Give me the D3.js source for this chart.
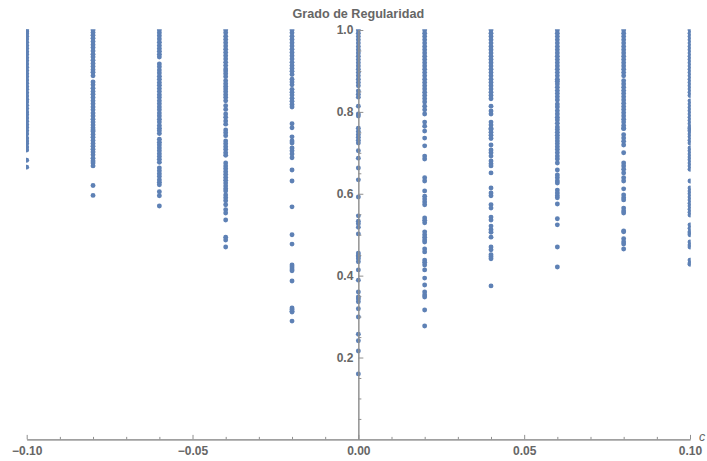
<!DOCTYPE html>
<html>
<head>
<meta charset="utf-8">
<script src="https://cdn.jsdelivr.net/npm/d3@7"></script>
<style>
  html, body { margin: 0; padding: 0; background: #fff; }
  svg { display: block; font-family: "Liberation Sans", Arial, sans-serif; }
</style>
</head>
<body>
<svg id="chart" width="707" height="461"></svg>
<script>
// Parameter values c (one column of points per value)
const cValues = [-0.10, -0.08, -0.06, -0.04, -0.02, 0.00, 0.02, 0.04, 0.06, 0.08, 0.10];

// Degree of regularity observed for each c
const regM10 = [1.000, 0.996, 0.991, 0.985, 0.978, 0.970, 0.962, 0.955, 0.947, 0.940, 0.932, 0.925, 0.917, 0.909, 0.901, 0.893, 0.886, 0.878, 0.870, 0.862, 0.855, 0.847, 0.839, 0.831, 0.824, 0.816, 0.808, 0.800, 0.793, 0.785, 0.777, 0.769, 0.762, 0.754, 0.746,
  0.736, 0.729, 0.722, 0.714, 0.707, 0.682, 0.665];
const regM08 = [1.000, 0.994, 0.987, 0.980, 0.972, 0.964, 0.957, 0.949, 0.941, 0.934, 0.926, 0.918, 0.911, 0.903, 0.897, 0.888,
  0.873, 0.866, 0.858, 0.850, 0.843, 0.835, 0.827, 0.820, 0.812, 0.805, 0.797, 0.790, 0.782, 0.775, 0.768, 0.761, 0.756,
  0.752, 0.745, 0.738, 0.730, 0.723, 0.716, 0.709, 0.702, 0.695, 0.687, 0.680, 0.675, 0.668, 0.620, 0.596];
const regM06 = [1.000, 0.993, 0.986, 0.978, 0.970, 0.962, 0.955, 0.948, 0.941, 0.934,
  0.917, 0.910, 0.902, 0.895, 0.887, 0.880, 0.872, 0.865, 0.857, 0.850, 0.842, 0.835, 0.827, 0.820, 0.812, 0.805, 0.797, 0.790, 0.782, 0.775, 0.767, 0.760,
  0.754, 0.747, 0.733, 0.726, 0.719, 0.712, 0.705, 0.698, 0.691, 0.684, 0.677, 0.663, 0.656, 0.649, 0.642, 0.634, 0.628, 0.622,
  0.605, 0.595, 0.570];
const regM04 = [1.000, 0.993, 0.985, 0.977, 0.969, 0.961, 0.953, 0.945, 0.937, 0.929, 0.921, 0.913, 0.905,
  0.900, 0.893, 0.886, 0.876, 0.869, 0.862, 0.856, 0.849, 0.842, 0.835, 0.827, 0.815, 0.806, 0.795, 0.787, 0.778, 0.770,
  0.756, 0.749, 0.742, 0.729, 0.722, 0.715, 0.708, 0.700, 0.694,
  0.675, 0.668, 0.661, 0.654, 0.647, 0.640, 0.633, 0.626, 0.619, 0.612, 0.607,
  0.597, 0.590, 0.583, 0.573, 0.561, 0.553, 0.536, 0.494, 0.487, 0.470];
const regM02 = [1.000, 0.993, 0.985, 0.977, 0.969, 0.961, 0.953, 0.945, 0.937, 0.929, 0.921, 0.913,
  0.906, 0.899, 0.891, 0.880, 0.873, 0.866, 0.855, 0.848, 0.841, 0.833, 0.826, 0.818, 0.812,
  0.771, 0.761, 0.739, 0.729, 0.724, 0.712, 0.705, 0.697, 0.688, 0.658, 0.631, 0.568,
  0.500, 0.477, 0.426, 0.421, 0.416, 0.412, 0.387, 0.321, 0.317, 0.313, 0.311, 0.289];
const regZ00 = [1.000, 0.992, 0.984, 0.976, 0.968, 0.960, 0.952, 0.944, 0.936, 0.928, 0.920, 0.912, 0.904, 0.896, 0.888, 0.880, 0.872, 0.864,
  0.851, 0.843, 0.836, 0.814, 0.795, 0.790,
  0.760, 0.752, 0.745, 0.738, 0.731, 0.724, 0.705, 0.687, 0.663, 0.634, 0.592, 0.546, 0.533, 0.527, 0.518, 0.502,
  0.455, 0.450, 0.446, 0.441, 0.434, 0.414, 0.389, 0.360, 0.348, 0.343, 0.336, 0.319, 0.299, 0.257, 0.241, 0.216, 0.160];
const regP02 = [1.000, 0.992, 0.984, 0.976, 0.968, 0.960, 0.952, 0.944, 0.936, 0.928, 0.920, 0.912, 0.904, 0.896, 0.888, 0.880, 0.872, 0.864, 0.856, 0.848, 0.840, 0.832, 0.824,
  0.814, 0.805, 0.795, 0.775, 0.765,
  0.753, 0.736, 0.717, 0.692, 0.685, 0.639, 0.631, 0.607, 0.594, 0.587, 0.580, 0.573, 0.541, 0.535, 0.529,
  0.507, 0.500, 0.494, 0.487, 0.482, 0.465, 0.458, 0.438, 0.433, 0.426, 0.414, 0.394, 0.377, 0.360, 0.353, 0.348, 0.316, 0.277];
const regP04 = [1.000, 0.992, 0.984, 0.976, 0.968, 0.960, 0.952, 0.944, 0.936, 0.928, 0.920, 0.912, 0.904, 0.896, 0.888, 0.880, 0.872, 0.864, 0.856, 0.848, 0.840, 0.832,
  0.814, 0.802, 0.795, 0.775, 0.768, 0.760,
  0.757, 0.750, 0.743, 0.735, 0.719, 0.707, 0.700, 0.692, 0.680, 0.673, 0.668, 0.651, 0.614, 0.602, 0.595, 0.573, 0.565, 0.543, 0.536,
  0.521, 0.512, 0.506, 0.494, 0.470, 0.463, 0.451, 0.446, 0.441, 0.375];
const regP06 = [1.000, 0.992, 0.984, 0.976, 0.968, 0.960, 0.952, 0.944, 0.936, 0.928, 0.920, 0.912, 0.904, 0.896, 0.888, 0.880, 0.875,
  0.868, 0.860, 0.852, 0.845, 0.837, 0.829, 0.819, 0.812, 0.803, 0.795, 0.787, 0.780, 0.772, 0.763,
  0.757, 0.750, 0.743, 0.736, 0.729, 0.722, 0.715, 0.708, 0.700, 0.692, 0.685, 0.675, 0.658, 0.646, 0.639, 0.631, 0.626,
  0.609, 0.602, 0.595, 0.590, 0.575, 0.539, 0.524, 0.470, 0.421];
const regP08 = [1.000, 0.992, 0.984, 0.976, 0.968, 0.960, 0.952, 0.944, 0.936, 0.928, 0.920, 0.912, 0.904, 0.896, 0.888,
  0.876, 0.868, 0.860, 0.852, 0.845, 0.837, 0.829, 0.821, 0.813, 0.806, 0.798, 0.790, 0.782, 0.775, 0.767, 0.759,
  0.760, 0.744, 0.736, 0.728, 0.719, 0.700, 0.675, 0.668, 0.660, 0.651, 0.639, 0.631, 0.612, 0.597, 0.590, 0.585, 0.565, 0.558, 0.553,
  0.509, 0.507, 0.490, 0.482, 0.477, 0.465];
const regP10 = [1.000, 0.992, 0.984, 0.976, 0.968, 0.960, 0.952, 0.944, 0.936, 0.928, 0.920, 0.912, 0.904, 0.896, 0.888, 0.880, 0.872, 0.864, 0.856, 0.848, 0.840,
  0.827, 0.819, 0.811, 0.803, 0.795, 0.787, 0.779, 0.771, 0.763, 0.756,
  0.760, 0.753, 0.746, 0.739, 0.731, 0.724, 0.712, 0.705, 0.697, 0.690, 0.683, 0.675, 0.668, 0.660, 0.631,
  0.614, 0.607, 0.600, 0.592, 0.585, 0.577, 0.570, 0.562, 0.555, 0.548, 0.524, 0.516, 0.507,
  0.504, 0.500, 0.482, 0.475, 0.470, 0.438, 0.431, 0.428];

const regByC = [regM10, regM08, regM06, regM04, regM02, regZ00, regP02, regP04, regP06, regP08, regP10];

// Axis ticks
const xMajorTicks = [-0.10, -0.05, 0.00, 0.05, 0.10];
const xMinorTicks = [-0.09, -0.08, -0.07, -0.06, -0.04, -0.03, -0.02, -0.01, 0.01, 0.02, 0.03, 0.04, 0.06, 0.07, 0.08, 0.09];
const yMajorTicks = [0.2, 0.4, 0.6, 0.8, 1.0];
const yMinorTicks = [0.05, 0.10, 0.15, 0.25, 0.30, 0.35, 0.45, 0.50, 0.55, 0.65, 0.70, 0.75, 0.85, 0.90, 0.95];

const titleText = "Grado de Regularidad";
const xAxisLabel = "c";

// Flatten to point records
const points = [];
cValues.forEach((c, i) => regByC[i].forEach(v => points.push({ c, v })));

const svg = d3.select("#chart");
const textColor = "#666666";
const axisColor = "#8f8f8f";
const dotColor = "#5e81b5";

const x = d3.scaleLinear().domain([-0.1, 0.1]).range([26.7, 690]);
const y = d3.scaleLinear().domain([0, 1]).range([439.4, 30]);

// Plot region clip (points on the frame edges are partly cut)
const pad = 0.7;
svg.append("defs").append("clipPath").attr("id", "plotClip")
  .append("rect")
  .attr("x", x(-0.1) - pad)
  .attr("y", y(1) - pad)
  .attr("width", x(0.1) - x(-0.1) + 2 * pad)
  .attr("height", y(0) - y(1) + 2 * pad);

svg.append("g").attr("clip-path", "url(#plotClip)")
  .selectAll("circle")
  .data(points)
  .join("circle")
  .attr("cx", d => x(d.c))
  .attr("cy", d => y(d.v))
  .attr("r", 2.45)
  .attr("fill", dotColor);

// X axis: minor ticks, then major ticks with labels
const xMinor = svg.append("g").attr("transform", `translate(0,${y(0)})`)
  .call(d3.axisBottom(x).tickValues(xMinorTicks).tickSize(-2.5).tickSizeOuter(0).tickFormat(""));
const xMajor = svg.append("g").attr("transform", `translate(0,${y(0)})`)
  .call(d3.axisBottom(x).tickValues(xMajorTicks).tickSize(-4.5).tickSizeOuter(0)
    .tickPadding(7).tickFormat(d3.format(".2f")));

// Y axis at c = 0: minor ticks, then major ticks with labels
const yMinor = svg.append("g").attr("transform", `translate(${x(0)},0)`)
  .call(d3.axisLeft(y).tickValues(yMinorTicks).tickSize(-3).tickSizeOuter(0).tickFormat(""));
const yMajor = svg.append("g").attr("transform", `translate(${x(0)},0)`)
  .call(d3.axisLeft(y).tickValues(yMajorTicks).tickSize(-5).tickSizeOuter(0)
    .tickPadding(5).tickFormat(d3.format(".1f")));

[xMinor, xMajor, yMinor, yMajor].forEach(g => {
  g.selectAll("path.domain").attr("stroke", axisColor).attr("stroke-width", 1);
  g.selectAll(".tick line").attr("stroke", axisColor).attr("stroke-width", 1);
  g.selectAll(".tick text")
    .attr("fill", textColor)
    .style("font-size", "12px")
    .style("font-weight", "bold")
    .style("font-family", "'Liberation Sans', Arial, sans-serif");
});

// Axis label
svg.append("text")
  .attr("x", 699)
  .attr("y", 441)
  .attr("fill", textColor)
  .style("font-size", "12.5px")
  .style("font-style", "italic")
  .style("font-family", "'Liberation Sans', Arial, sans-serif")
  .text(xAxisLabel);

// Title
svg.append("text")
  .attr("x", x(0))
  .attr("y", 18.3)
  .attr("text-anchor", "middle")
  .attr("fill", textColor)
  .style("font-size", "12.6px")
  .style("font-weight", "bold")
  .style("font-family", "'Liberation Sans', Arial, sans-serif")
  .text(titleText);
</script>
</body>
</html>
